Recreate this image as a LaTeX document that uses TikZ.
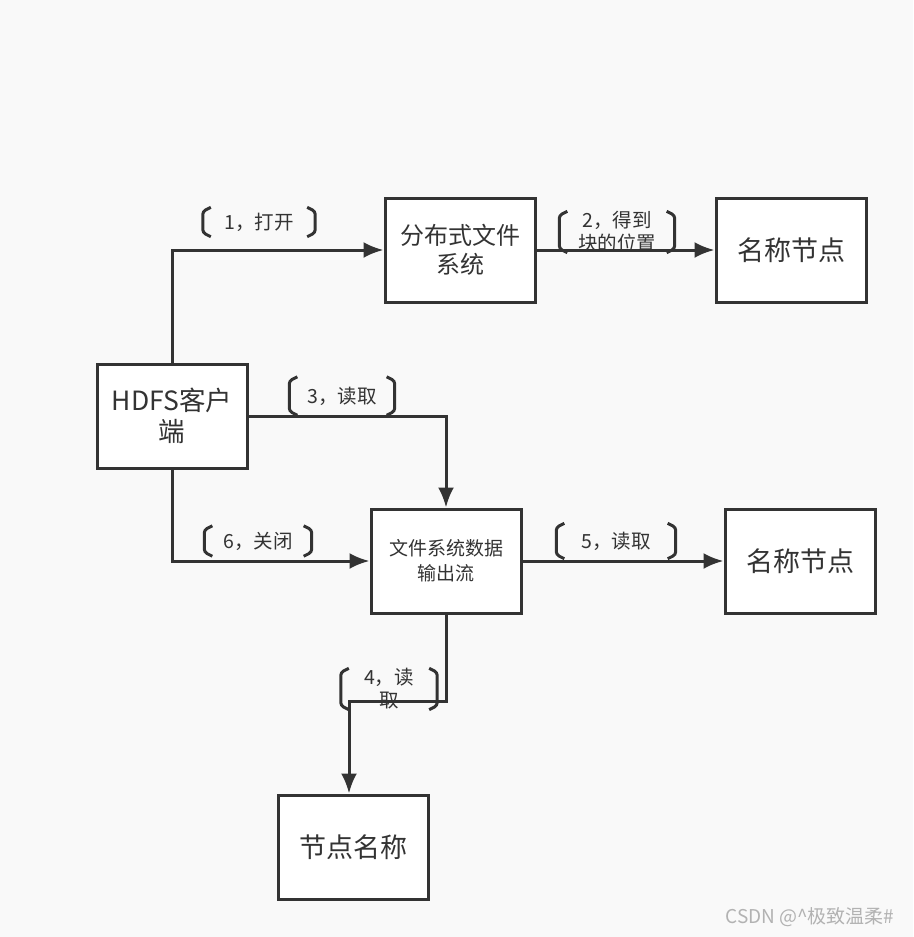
\documentclass[tikz,border=0pt]{standalone}
\usepackage{fontspec}
\setmainfont{Noto Sans CJK SC}
\usepackage{tikz}
\usetikzlibrary{arrows.meta}
\tikzset{>={Latex[width=16pt,length=20pt]}}
\definecolor{inkgray}{HTML}{333333}
\definecolor{pagegray}{HTML}{F9F9F9}
\tikzset{
  box/.style={shape=rectangle,draw=inkgray,line width=3pt,fill=white,text=inkgray,align=center,minimum width=150pt,minimum height=104pt,inner sep=2pt},
  flow/.style={->,draw=inkgray,line width=3pt},
  tag/.style={shape=rectangle,text=inkgray,align=center,inner sep=0pt,font=\fontsize{19.5}{23}\selectfont},
  brace/.style={draw=inkgray,line width=3pt,rounded corners=3pt}
}
\newcommand{\tagbrackets}[1]{%
  \draw[brace] ([xshift=8pt]#1.north west) -- ([yshift=-4pt]#1.north west) -- ([yshift=4pt]#1.south west) -- ([xshift=8pt]#1.south west);
  \draw[brace] ([xshift=-8pt]#1.north east) -- ([yshift=-4pt]#1.north east) -- ([yshift=4pt]#1.south east) -- ([xshift=-8pt]#1.south east);}

\begin{document}
\begin{tikzpicture}[x=1pt,y=-1pt]

\fill[pagegray] (0,0) rectangle (913,937);

\node [box,font=\fontsize{26.5}{31}\selectfont] (client) at (172,416) {HDFS客户\\端};
\node [box,font=\fontsize{24}{29}\selectfont] (dfs) at (460,250) {分布式文件\\系统};
\node [box,font=\fontsize{27}{30}\selectfont] (nnup) at (791,250) {名称节点};
\node [box,font=\fontsize{19}{25}\selectfont] (fsout) at (446,561) {文件系统数据\\输出流};
\node [box,font=\fontsize{27}{30}\selectfont] (nnright) at (800,561) {名称节点};
\node [box,font=\fontsize{27}{30}\selectfont] (dn) at (353,847) {节点名称};

\coordinate (bend) at (349,701);

\draw[flow] (client.north) |- (dfs.west);
\draw[flow] (dfs) -- (nnup);
\draw[flow] (client.east) -| (fsout.north);
\draw[flow] (client.south) |- (fsout.west);
\draw[flow] (fsout) -- (nnright);
\draw[flow] (fsout.south) |- (bend) -- (bend |- dn.north);

\node [tag,minimum width=112pt,minimum height=29pt] (open) at (259,222) {1，打开};
\node [tag,minimum width=115pt,minimum height=34pt] (locate) at (617,232) {2，得到\\块的位置};
\node [tag,minimum width=105pt,minimum height=38pt] (readA) at (342,396) {3，读取};
\node [tag,minimum width=96pt,minimum height=30pt] (readB) at (389,689) {4，读\\取};
\node [tag,minimum width=119pt,minimum height=35pt] (readC) at (616,541) {5，读取};
\node [tag,minimum width=107pt,minimum height=30pt] (close) at (258,541) {6，关闭};

\tagbrackets{open}
\tagbrackets{locate}
\tagbrackets{readA}
\tagbrackets{readB}
\tagbrackets{readC}
\tagbrackets{close}

\node [text=gray!60,font=\fontsize{19}{21}\selectfont] (mark) at (810,917) {CSDN @\^{}极致温柔\#};

\end{tikzpicture}
\end{document}
